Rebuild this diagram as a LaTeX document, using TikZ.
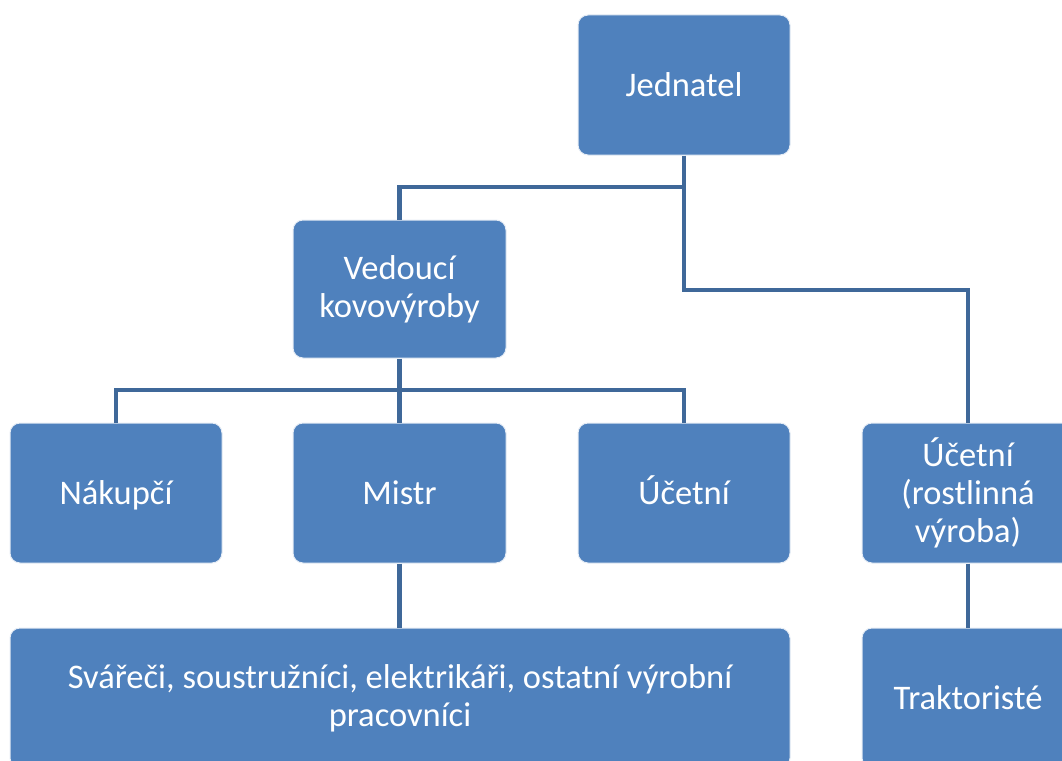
\documentclass[tikz,border=0pt]{standalone}
\usepackage{fontspec}
\setmainfont{Carlito}
\definecolor{boxblue}{HTML}{4F81BD}
\definecolor{lineblue}{HTML}{3F6899}
\begin{document}
\begin{tikzpicture}[x=1pt,y=-1pt,
  orgbox/.style={draw=white!85!boxblue, line width=1pt, fill=boxblue, rounded corners=10pt,
    text=white, font=\fontsize{34.5}{38}\selectfont, align=center, inner sep=0pt},
  oneline/.style={text height=24pt, text depth=2pt},
  conn/.style={draw=lineblue, line width=4.5pt, line join=miter}]
\useasboundingbox (0,0) rectangle (1062,760);
\clip (0,0) rectangle (1062,760);
\node[orgbox, oneline, minimum width=212pt, minimum height=140pt] (jed) at (684,85) {Jednatel};
\node[orgbox, minimum width=213pt, minimum height=138pt] (ved) at (399.5,289) {Vedoucí\\kovovýroby};
\node[orgbox, oneline, minimum width=212pt, minimum height=140pt] (nak) at (116,493) {Nákupčí};
\node[orgbox, oneline, minimum width=213pt, minimum height=140pt] (mis) at (399.5,493) {Mistr};
\node[orgbox, oneline, minimum width=212pt, minimum height=140pt] (acc) at (684,493) {Účetní};
\node[orgbox, minimum width=212pt, minimum height=140pt] (ur) at (968,493) {Účetní\\(rostlinná\\výroba)};
\node[orgbox, minimum width=780pt, minimum height=140pt] (sv) at (400,698) {Svářeči, soustružníci, elektrikáři, ostatní výrobní\\pracovníci};
\node[orgbox, oneline, minimum width=212pt, minimum height=140pt] (tr) at (968,698) {Traktoristé};
\coordinate (j1) at (684,187);
\coordinate (j2) at (684,290);
\coordinate (v1) at (399.5,390);
\draw[conn] (jed.south) -- (j2) -| (ur.north);
\draw[conn] (j1) -| (ved.north);
\draw[conn] (ved.south) -- (mis.north);
\draw[conn] (nak.north) |- (v1) -| (acc.north);
\draw[conn] (mis.south) -- (mis.south |- sv.north);
\draw[conn] (ur.south) -- (tr.north);
\end{tikzpicture}
\end{document}
